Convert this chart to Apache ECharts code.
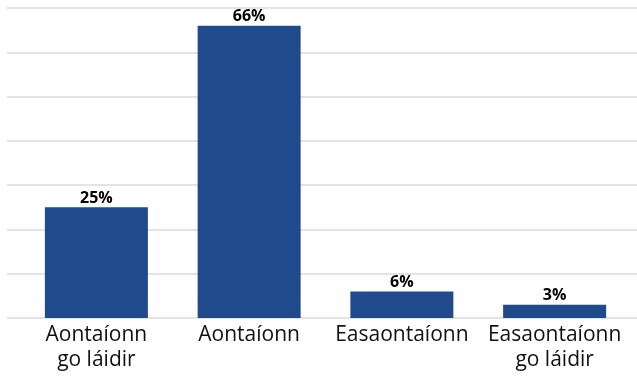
<!DOCTYPE html>
<html>
<head>
<meta charset="utf-8">
<script src="https://cdn.jsdelivr.net/npm/echarts@6/dist/echarts.min.js"></script>
<style>
  html, body { margin: 0; padding: 0; background: #fff; }
  #chart { width: 637px; height: 376px; }
</style>
</head>
<body>
<div id="chart"></div>
<script>
const categories = ['Aontaíonn\ngo láidir', 'Aontaíonn', 'Easaontaíonn', 'Easaontaíonn\ngo láidir'];
const values = [25, 66, 6, 3];
const yTicks = [0, 10, 20, 30, 40, 50, 60, 70];

const chart = echarts.init(document.getElementById('chart'));
const font = '"Open Sans", "Noto Sans", sans-serif';

chart.setOption({
  animation: false,
  // grid 0 only carries the full-width gridlines, grid 1 holds the bars
  grid: [
    { left: 7, right: 0, top: 8, bottom: 58 },
    { left: 20, right: 6, top: 8, bottom: 58 }
  ],
  xAxis: [
    { gridIndex: 0, type: 'category', data: categories, show: false },
    {
      gridIndex: 1,
      type: 'category',
      data: categories,
      axisLine: { show: false },
      axisTick: { show: false },
      axisLabel: {
        interval: 0,
        hideOverlap: false,
        color: '#111',
        fontFamily: font,
        fontSize: 21,
        lineHeight: 25,
        margin: 5
      }
    }
  ],
  yAxis: [
    {
      gridIndex: 0,
      type: 'value',
      min: yTicks[0],
      max: yTicks[yTicks.length - 1],
      interval: 10,
      axisLabel: { show: false },
      axisLine: { show: false },
      axisTick: { show: false },
      splitLine: { lineStyle: { color: '#e3e3e3', width: 2 } }
    },
    {
      gridIndex: 1,
      type: 'value',
      min: yTicks[0],
      max: yTicks[yTicks.length - 1],
      show: false,
      splitLine: { show: false }
    }
  ],
  series: [{
    type: 'bar',
    xAxisIndex: 1,
    yAxisIndex: 1,
    data: values,
    barWidth: 103,
    itemStyle: { color: '#1f4a8b' },
    label: {
      show: true,
      position: 'top',
      distance: 1,
      formatter: '{c}%',
      color: '#000',
      fontFamily: font,
      fontWeight: 'bold',
      fontSize: 16
    }
  }]
});
</script>
</body>
</html>
